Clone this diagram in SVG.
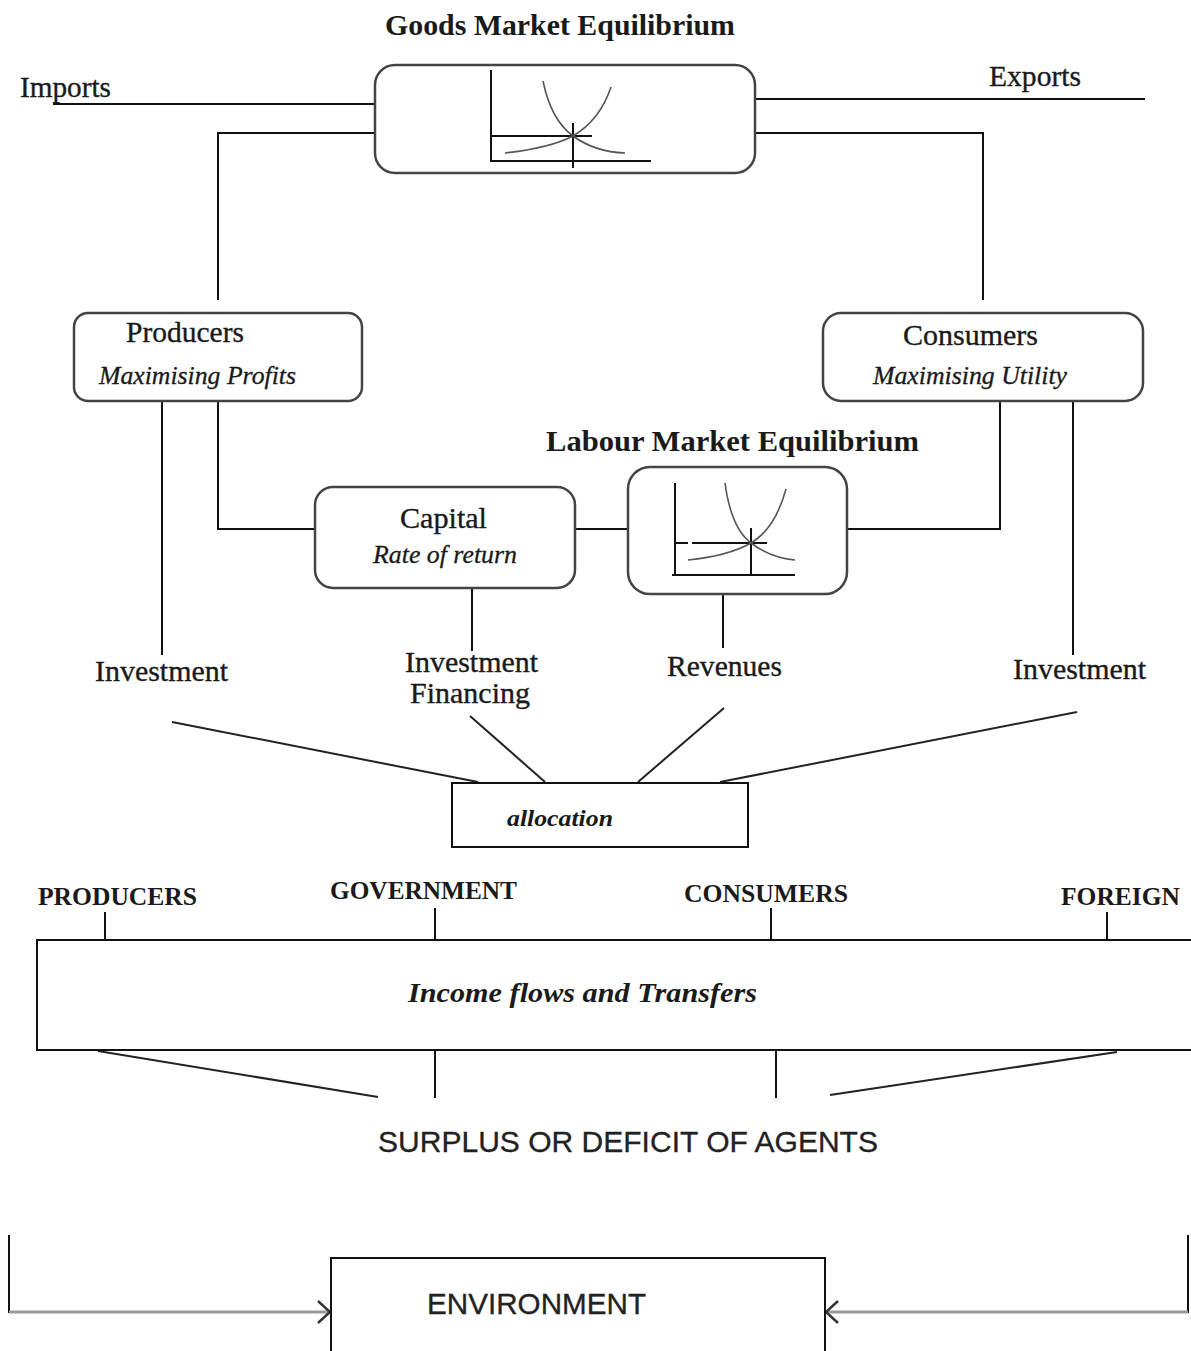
<svg xmlns="http://www.w3.org/2000/svg" width="1191" height="1351" viewBox="0 0 1191 1351">
  <defs>
    <marker id="chev" viewBox="0 0 16 26" markerWidth="16" markerHeight="26" refX="14" refY="13" orient="auto" markerUnits="userSpaceOnUse">
      <path d="M2,2 L14,13 L2,24" fill="none" stroke="#333" stroke-width="2.4"/>
    </marker>
  </defs>
  <style>
    .bg { fill: #ffffff; }
    .rbox { fill: #ffffff; stroke: #444; stroke-width: 2.5; }
    .box { fill: #ffffff; stroke: #111; stroke-width: 2; }
    .wire { fill: none; stroke: #111; stroke-width: 2; }
    .diag { fill: none; stroke: #222; stroke-width: 2; }
    .axis { fill: none; stroke: #111; stroke-width: 2; }
    .curve { fill: none; stroke: #555; stroke-width: 1.6; }
    .feed { fill: none; stroke: #999; stroke-width: 3; }
    .feedv { fill: none; stroke: #111; stroke-width: 2; }
    .t { font-family: "Liberation Serif", "Times New Roman", serif; fill: #1a1a1a; stroke: #1a1a1a; stroke-width: 0.35; font-size: 29px; }
    .ti { font-family: "Liberation Serif", "Times New Roman", serif; fill: #1a1a1a; stroke: #1a1a1a; stroke-width: 0.3; font-size: 25px; font-style: italic; }
    .tb { font-family: "Liberation Serif", "Times New Roman", serif; fill: #1a1a1a; font-size: 30px; font-weight: bold; }
    .tbi { font-family: "Liberation Serif", "Times New Roman", serif; fill: #1a1a1a; font-weight: bold; font-style: italic; }
    .tcap { font-family: "Liberation Serif", "Times New Roman", serif; fill: #1a1a1a; font-size: 25px; font-weight: bold; }
    .ts { font-family: "Liberation Sans", Arial, sans-serif; fill: #222; stroke: #222; stroke-width: 0.3; font-size: 29px; }
  </style>

  <rect class="bg" x="0" y="0" width="1191" height="1351"/>

  <!-- connectors -->
  <g id="connectors">
    <!-- trade lines and links from the goods market -->
    <polyline class="wire" points="53,104 375,104"/>
    <polyline class="wire" points="755,99 1145,99"/>
    <polyline class="wire" points="375,133 218,133 218,300"/>
    <polyline class="wire" points="755,133 983,133 983,300"/>
    <!-- producers / consumers to the factor markets -->
    <polyline class="wire" points="218,401 218,529 315,529"/>
    <polyline class="wire" points="568,529 633,529"/>
    <polyline class="wire" points="1000,401 1000,529 840,529"/>
    <!-- drops to the flow labels -->
    <line class="wire" x1="162" y1="401" x2="162" y2="655"/>
    <line class="wire" x1="472" y1="588" x2="472" y2="651"/>
    <line class="wire" x1="723" y1="595" x2="723" y2="648"/>
    <line class="wire" x1="1073" y1="401" x2="1073" y2="655"/>
    <!-- flows into allocation -->
    <line class="diag" x1="172" y1="722" x2="478" y2="782"/>
    <line class="diag" x1="470" y1="716" x2="545" y2="782"/>
    <line class="diag" x1="724" y1="708" x2="638" y2="782"/>
    <line class="diag" x1="1077" y1="712" x2="720" y2="782"/>
    <!-- agent ticks on the income box -->
    <line class="wire" x1="105" y1="912" x2="105" y2="940"/>
    <line class="wire" x1="435" y1="908" x2="435" y2="940"/>
    <line class="wire" x1="771" y1="908" x2="771" y2="940"/>
    <line class="wire" x1="1107" y1="912" x2="1107" y2="940"/>
    <!-- income box to surplus / deficit -->
    <line class="diag" x1="98" y1="1051" x2="378" y2="1097"/>
    <line class="wire" x1="435" y1="1050" x2="435" y2="1098"/>
    <line class="wire" x1="776" y1="1050" x2="776" y2="1098"/>
    <line class="diag" x1="1117" y1="1052" x2="830" y2="1095"/>
    <!-- feedback into the environment -->
    <line class="feedv" x1="9" y1="1235" x2="9" y2="1313"/>
    <line class="feed" x1="9" y1="1312" x2="330" y2="1312" marker-end="url(#chev)"/>
    <line class="feedv" x1="1188" y1="1235" x2="1188" y2="1313"/>
    <line class="feed" x1="1188" y1="1312" x2="826" y2="1312" marker-end="url(#chev)"/>
  </g>

  <!-- goods market -->
  <g id="goods-market">
    <text class="tb" x="385" y="35" textLength="350" lengthAdjust="spacingAndGlyphs">Goods Market Equilibrium</text>
    <rect class="rbox" x="375" y="65" width="380" height="108" rx="20"/>
    <polyline class="axis" points="491,70 491,161 651,161"/>
    <line class="axis" x1="491" y1="136" x2="592" y2="136"/>
    <line class="axis" x1="573" y1="123" x2="573" y2="168"/>
    <path class="curve" d="M543,81 Q551,120 573,136 Q595,152 625,153"/>
    <path class="curve" d="M505,153 Q550,148 573,136 Q600,120 611,87"/>
  </g>

  <g id="imports">
    <text class="t" x="20" y="97" textLength="91" lengthAdjust="spacingAndGlyphs">Imports</text>
  </g>
  <g id="exports">
    <text class="t" x="989" y="86" textLength="92" lengthAdjust="spacingAndGlyphs">Exports</text>
  </g>

  <!-- producers -->
  <g id="producers">
    <rect class="rbox" x="74" y="313" width="288" height="88" rx="14"/>
    <text class="t" x="126" y="342" textLength="118" lengthAdjust="spacingAndGlyphs">Producers</text>
    <text class="ti" x="99" y="384" textLength="197" lengthAdjust="spacingAndGlyphs">Maximising Profits</text>
  </g>

  <!-- consumers -->
  <g id="consumers">
    <rect class="rbox" x="823" y="313" width="320" height="88" rx="18"/>
    <text class="t" x="903" y="345" textLength="135" lengthAdjust="spacingAndGlyphs">Consumers</text>
    <text class="ti" x="873" y="384" textLength="194" lengthAdjust="spacingAndGlyphs">Maximising Utility</text>
  </g>

  <!-- capital -->
  <g id="capital">
    <rect class="rbox" x="315" y="487" width="260" height="101" rx="18"/>
    <text class="t" x="400" y="528" textLength="87" lengthAdjust="spacingAndGlyphs">Capital</text>
    <text class="ti" x="373" y="563" textLength="144" lengthAdjust="spacingAndGlyphs">Rate of return</text>
  </g>

  <!-- labour market -->
  <g id="labour-market">
    <text class="tb" x="546" y="451" textLength="373" lengthAdjust="spacingAndGlyphs">Labour Market  Equilibrium</text>
    <rect class="rbox" x="628" y="467" width="219" height="127" rx="22"/>
    <polyline class="axis" points="675,483 675,575"/>
    <line class="axis" x1="672" y1="575" x2="795" y2="575"/>
    <line class="axis" x1="675" y1="543" x2="688" y2="543"/>
    <line class="axis" x1="692" y1="543" x2="767" y2="543"/>
    <line class="axis" x1="751" y1="528" x2="751" y2="575"/>
    <path class="curve" d="M725,483 Q731,528 751,543 Q771,558 795,560"/>
    <path class="curve" d="M688,560 Q728,556 751,543 Q775,529 786,489"/>
  </g>

  <!-- flow labels -->
  <g id="investment-producers">
    <text class="t" x="95" y="681" textLength="133" lengthAdjust="spacingAndGlyphs">Investment</text>
  </g>
  <g id="investment-financing">
    <text class="t" x="405" y="672" textLength="133" lengthAdjust="spacingAndGlyphs">Investment</text>
    <text class="t" x="410" y="703" textLength="120" lengthAdjust="spacingAndGlyphs">Financing</text>
  </g>
  <g id="revenues">
    <text class="t" x="667" y="676" textLength="115" lengthAdjust="spacingAndGlyphs">Revenues</text>
  </g>
  <g id="investment-consumers">
    <text class="t" x="1013" y="679" textLength="133" lengthAdjust="spacingAndGlyphs">Investment</text>
  </g>

  <!-- allocation -->
  <g id="allocation">
    <rect class="box" x="452" y="783" width="296" height="64"/>
    <text class="tbi" x="507" y="826" font-size="24" textLength="106" lengthAdjust="spacingAndGlyphs">allocation</text>
  </g>

  <!-- agents -->
  <g id="agent-producers">
    <text class="tcap" x="38" y="905" textLength="159" lengthAdjust="spacingAndGlyphs">PRODUCERS</text>
  </g>
  <g id="agent-government">
    <text class="tcap" x="330" y="899" textLength="187" lengthAdjust="spacingAndGlyphs">GOVERNMENT</text>
  </g>
  <g id="agent-consumers">
    <text class="tcap" x="684" y="902" textLength="164" lengthAdjust="spacingAndGlyphs">CONSUMERS</text>
  </g>
  <g id="agent-foreign">
    <text class="tcap" x="1061" y="905" textLength="119" lengthAdjust="spacingAndGlyphs">FOREIGN</text>
  </g>

  <!-- income flows -->
  <g id="income-flows">
    <rect class="box" x="37" y="940" width="1170" height="110"/>
    <text class="tbi" x="408" y="1002" font-size="28" textLength="349" lengthAdjust="spacingAndGlyphs">Income flows and Transfers</text>
  </g>

  <g id="surplus-deficit">
    <text class="ts" x="378" y="1152" textLength="500" lengthAdjust="spacingAndGlyphs">SURPLUS OR DEFICIT OF AGENTS</text>
  </g>

  <!-- environment -->
  <g id="environment">
    <rect class="box" x="331" y="1258" width="494" height="110"/>
    <text class="ts" x="427" y="1314" textLength="219" lengthAdjust="spacingAndGlyphs">ENVIRONMENT</text>
  </g>
</svg>
